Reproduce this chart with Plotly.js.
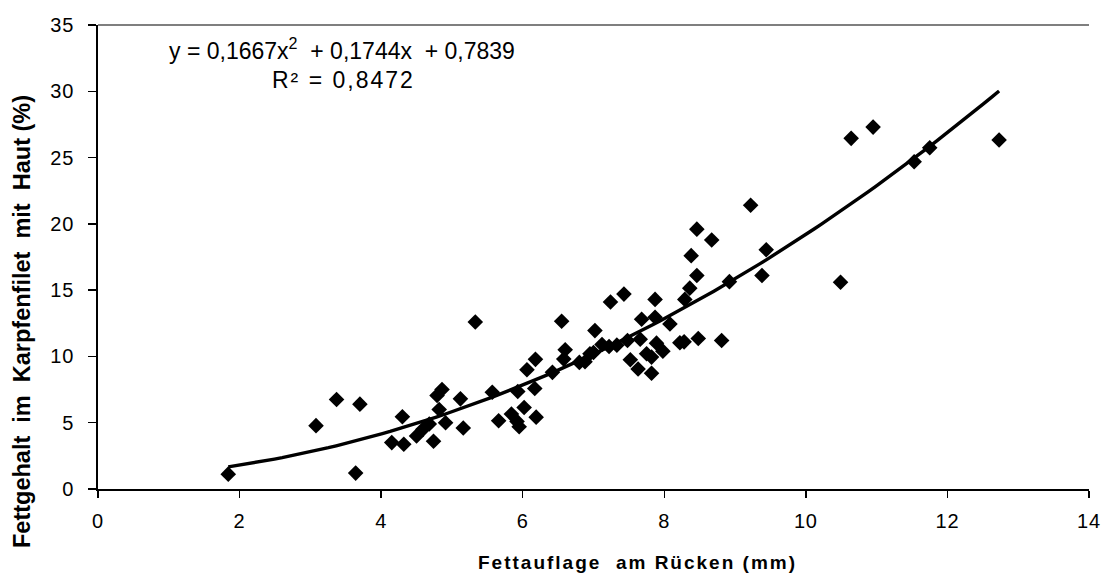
<!DOCTYPE html>
<html>
<head>
<meta charset="utf-8">
<script src="https://cdn.plot.ly/plotly-3.0.1.min.js"></script>
<style>
html,body{margin:0;padding:0;background:#fff;}
#chart{width:1106px;height:576px;}
.xtick text{letter-spacing:0.8px;}
.ytick text{letter-spacing:0.8px;}
.r2note .annotation-text{letter-spacing:2px;}
.xtitlenote .annotation-text{letter-spacing:2px;}
</style>
</head>
<body>
<div id="chart"></div>
<script>
// Fettauflage am Rücken (mm)
const fatLayer = [1.84, 3.08, 3.37, 3.64, 3.70, 4.15, 4.30, 4.32, 4.50, 4.59,
  4.68, 4.74, 4.79, 4.86, 4.82, 4.91, 5.12, 5.16, 5.33, 5.57,
  5.66, 5.84, 5.93, 5.92, 5.95, 6.02, 6.06, 6.18, 6.17, 6.19,
  6.42, 6.55, 6.60, 6.58, 6.80, 6.95, 7.02, 7.12, 7.22, 7.24,
  7.43, 7.33, 7.48, 7.52, 7.63, 7.66, 7.68, 7.75, 7.82, 7.82,
  7.87, 7.87, 7.89, 7.98, 8.08, 8.22, 8.28, 8.29, 8.36, 8.38,
  8.46, 8.46, 8.48, 8.67, 8.81, 8.92, 9.22, 9.38, 9.44, 10.49,
  10.64, 10.95, 11.53, 11.75, 12.73, 7.00, 6.88];
// Fettgehalt im Karpfenfilet mit Haut (%)
const fatContent = [1.12, 4.78, 6.75, 1.20, 6.40, 3.50, 5.45, 3.38, 4.00, 4.50,
  4.90, 3.60, 7.05, 7.50, 6.00, 5.00, 6.80, 4.60, 12.60, 7.30,
  5.15, 5.65, 7.35, 5.10, 4.70, 6.15, 9.00, 9.78, 7.58, 5.42,
  8.80, 12.65, 10.50, 9.80, 9.55, 10.20, 11.95, 10.90, 10.75, 14.10,
  14.70, 10.85, 11.20, 9.75, 9.05, 11.30, 12.80, 10.20, 9.95, 8.73,
  14.30, 12.95, 11.00, 10.40, 12.45, 11.03, 11.10, 14.30, 15.15, 17.60,
  16.10, 19.60, 11.35, 18.78, 11.20, 15.64, 21.40, 16.10, 18.05, 15.60,
  26.45, 27.30, 24.68, 25.74, 26.32, 10.30, 9.60];

// Trendline coefficients shown in the chart: y = a x^2 + b x + c
const trendCoef = [0.1667, 0.1744, 0.7839];
const trendLabel = "y = 0,1667x<sup>2</sup>  + 0,1744x  + 0,7839";
const r2Label = "R² = 0,8472";
const xTitle = "<b>Fettauflage  am Rücken (mm)</b>";
const yTitle = "<b>Fettgehalt  im  Karpfenfilet  mit  Haut (%)</b>";
const xTickVals = [0, 2, 4, 6, 8, 10, 12, 14];
const yTickVals = [0, 5, 10, 15, 20, 25, 30, 35];

const xMin = Math.min(...fatLayer), xMax = Math.max(...fatLayer);
const trendX = [], trendY = [];
for (let i = 0; i <= 100; i++) {
  const x = xMin + (xMax - xMin) * i / 100;
  trendX.push(x);
  trendY.push(trendCoef[0] * x * x + trendCoef[1] * x + trendCoef[2]);
}

const font = "Liberation Sans, Arial, sans-serif";
const data = [
  {x: trendX, y: trendY, type: "scatter", mode: "lines",
   line: {color: "#000", width: 3.4}, hoverinfo: "skip", showlegend: false},
  {x: fatLayer, y: fatContent, type: "scatter", mode: "markers",
   marker: {symbol: "diamond", size: 12, color: "#000"}, showlegend: false}
];
const layout = {
  width: 1106, height: 576,
  margin: {l: 98, r: 17, t: 25, b: 87},
  paper_bgcolor: "#fff", plot_bgcolor: "#fff",
  font: {family: font, color: "#000", size: 20},
  xaxis: {range: [0, 14], tickvals: xTickVals, showgrid: false, zeroline: false,
    showline: true, linecolor: "#000", linewidth: 1.8, ticks: "outside", ticklen: 7,
    tickwidth: 1.5, tickcolor: "#000", tickfont: {size: 20, family: font},
    ticklabelstandoff: 6},
  yaxis: {range: [0, 35], tickvals: yTickVals, showgrid: false, zeroline: false,
    showline: true, linecolor: "#000", linewidth: 1.8, ticks: "outside", ticklen: 8,
    tickwidth: 1.5, tickcolor: "#000", tickfont: {size: 20, family: font},
    ticklabelstandoff: 10},
  shapes: [{type: "line", xref: "paper", yref: "paper", x0: 0, x1: 1, y0: 1, y1: 1,
    line: {color: "#555", width: 1.5}}],
  annotations: [
    {x: 0.246, y: 0.948, xref: "paper", yref: "paper", text: trendLabel, showarrow: false,
     xanchor: "center", yanchor: "middle", font: {size: 23, family: font}},
    {x: 0.248, y: 0.881, xref: "paper", yref: "paper", text: r2Label, showarrow: false,
     xanchor: "center", yanchor: "middle", font: {size: 23, family: font}},
    {x: 0.544, y: -0.159, xref: "paper", yref: "paper", text: xTitle, showarrow: false,
     xanchor: "center", yanchor: "middle", font: {size: 19, family: font}},
    {x: -0.0767, y: 0.362, xref: "paper", yref: "paper", text: yTitle, showarrow: false,
     textangle: -90, xanchor: "center", yanchor: "middle", font: {size: 23.5, family: font}}
  ]
};
Plotly.newPlot("chart", data, layout, {displayModeBar: false, staticPlot: true}).then(() => {
  const notes = document.querySelectorAll("g.annotation");
  notes.forEach((g, i) => {
    if (i === 1) g.classList.add("r2note");
    if (i === 2) g.classList.add("xtitlenote");
  });
});
</script>
</body>
</html>
